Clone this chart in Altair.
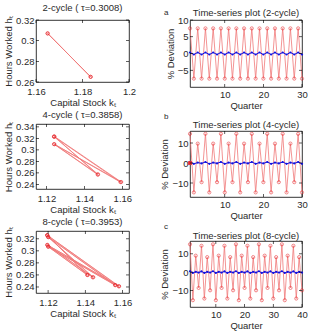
import altair as alt
import pandas as pd

FONT = "Liberation Sans"
RED_LINE = "#f07878"
RED_PT = "#e8262b"
BLUE = "#1010e0"
INK = "#2a2a2a"

# ---- phase-plane trajectories: capital stock k_t vs hours worked h_t ----
k2 = [1.165, 1.1835, 1.165, 1.1835]
h2 = [0.307, 0.265, 0.307, 0.265]

k4 = [1.124, 1.159, 1.124, 1.147, 1.1242, 1.1594, 1.1242, 1.1472, 1.124]
h4 = [0.323, 0.244, 0.310, 0.257, 0.3233, 0.2442, 0.3098, 0.2574, 0.323]

k8 = [1.1195, 1.158, 1.1195, 1.144, 1.1200, 1.156, 1.1200, 1.141,
      1.1197, 1.1582, 1.1197, 1.1443, 1.1202, 1.1562, 1.1202, 1.1413, 1.1195]
h8 = [0.326, 0.241, 0.310, 0.256, 0.323, 0.243, 0.307, 0.260,
      0.3257, 0.2413, 0.3097, 0.2562, 0.3227, 0.2432, 0.3068, 0.2598, 0.326]

# ---- time series: % deviation per quarter ----
q30 = list(range(1, 31))
q40 = list(range(1, 41))

red2 = [7.5, -7.5, 7.5, -7.5, 7.5, -7.5, 7.5, -7.5, 7.5, -7.5,
        7.5, -7.5, 7.5, -7.5, 7.5, -7.5, 7.5, -7.5, 7.5, -7.5,
        7.5, -7.5, 7.5, -7.5, 7.5, -7.5, 7.5, -7.5, 7.5, -7.5]
blue2 = [0.3, -0.3, 0.3, -0.3, 0.3, -0.3, 0.3, -0.3, 0.3, -0.3,
         0.3, -0.3, 0.3, -0.3, 0.3, -0.3, 0.3, -0.3, 0.3, -0.3,
         0.3, -0.3, 0.3, -0.3, 0.3, -0.3, 0.3, -0.3, 0.3, -0.3]

red4 = [14.6, -14.7, 9.7, -9.6, 14.6, -14.7, 9.7, -9.6, 14.6, -14.7,
        9.7, -9.6, 14.6, -14.7, 9.7, -9.6, 14.6, -14.7, 9.7, -9.6,
        14.6, -14.7, 9.7, -9.6, 14.6, -14.7, 9.7, -9.6, 14.6, -14.7]
blue4 = [0.5, -0.4, 0.2, -0.2, 0.5, -0.4, 0.2, -0.2, 0.5, -0.4,
         0.2, -0.2, 0.5, -0.4, 0.2, -0.2, 0.5, -0.4, 0.2, -0.2,
         0.5, -0.4, 0.2, -0.2, 0.5, -0.4, 0.2, -0.2, 0.5, -0.4]
start4_q = [1]
start4_v = [0.0]

red8 = [15.2, -15.3, 9.0, -8.6, 14.4, -14.4, 8.2, -9.9,
        15.2, -15.3, 9.0, -8.6, 14.4, -14.4, 8.2, -9.9,
        15.2, -15.3, 9.0, -8.6, 14.4, -14.4, 8.2, -9.9,
        15.2, -15.3, 9.0, -8.6, 14.4, -14.4, 8.2, -9.9,
        15.2, -15.3, 9.0, -8.6, 14.4, -14.4, 8.2, -9.9]
blue8 = [0.5, -0.4, 0.2, -0.2, 0.4, -0.4, 0.2, -0.2,
         0.5, -0.4, 0.2, -0.2, 0.4, -0.4, 0.2, -0.2,
         0.5, -0.4, 0.2, -0.2, 0.4, -0.4, 0.2, -0.2,
         0.5, -0.4, 0.2, -0.2, 0.4, -0.4, 0.2, -0.2,
         0.5, -0.4, 0.2, -0.2, 0.4, -0.4, 0.2, -0.2]


def label_layer(text, x, y, size=9.5, align="center"):
    """A free-standing caption drawn in the panel's own pixel frame."""
    return alt.Chart(pd.DataFrame({"t": [text]})).mark_text(
        font=FONT, fontSize=size, align=align, baseline="middle", color=INK
    ).encode(text="t:N", x=alt.value(x), y=alt.value(y))


def inner_ticks(xvals, yvals, xfield, yfield, xsc, ysc, xax, yax, w, ht):
    """Short tick marks pointing into the plot box on all four sides."""
    tx = pd.DataFrame({xfield: xvals})
    ty = pd.DataFrame({yfield: yvals})
    style = dict(color="black", thickness=0.7, size=3, opacity=0.9)
    out = []
    for yv in (ht - 1.5, 1.5):
        out.append(alt.Chart(tx).mark_tick(orient="vertical", **style).encode(
            x=alt.X(f"{xfield}:Q", scale=xsc, axis=xax), y=alt.value(yv)))
    for xv in (1.5, w - 1.5):
        out.append(alt.Chart(ty).mark_tick(orient="horizontal", **style).encode(
            y=alt.Y(f"{yfield}:Q", scale=ysc, axis=yax), x=alt.value(xv)))
    return out


def phase_panel(k, h, name, xdom, ydom, xticks, yticks, w, ht, ty):
    df = pd.DataFrame({"k": k, "h": h, "step": list(range(len(k)))})
    xsc = alt.Scale(domain=xdom, nice=False, zero=False)
    ysc = alt.Scale(domain=ydom, nice=False, zero=False)
    xax = alt.Axis(values=xticks, title="Capital Stock kₜ", format="~g",
                   labelPadding=4)
    yax = alt.Axis(values=yticks, title="Hours Worked hₜ", format="~g")
    x = alt.X("k:Q", scale=xsc, axis=xax)
    y = alt.Y("h:Q", scale=ysc, axis=yax)
    line = alt.Chart(df).mark_line(color=RED_LINE, strokeWidth=0.8, clip=True).encode(
        x=x, y=y, order="step:Q")
    pts = alt.Chart(df).mark_point(color=RED_PT, shape="circle", size=10,
                                   strokeWidth=0.9, filled=False).encode(x=x, y=y)
    layers = [line, pts] + inner_ticks(xticks, yticks, "k", "h", xsc, ysc,
                                       xax, yax, w, ht)
    layers.append(label_layer(name, w / 2, ty))
    return alt.layer(*layers).properties(width=w, height=ht)


def series_panel(q, red, blue, name, letter, xdom, ydom, xticks, yticks, w, ht,
                 ty, tag_y, start_q=None, start_v=None):
    df = pd.DataFrame({"q": q, "red": red, "blue": blue})
    xsc = alt.Scale(domain=xdom, nice=False, zero=False)
    ysc = alt.Scale(domain=ydom, nice=False, zero=False)
    xax = alt.Axis(values=xticks, title="Quarter")
    yax = alt.Axis(values=yticks, title="% Deviation")
    x = alt.X("q:Q", scale=xsc, axis=xax)
    r_line = alt.Chart(df).mark_line(color=RED_LINE, strokeWidth=0.8).encode(
        x=x, y=alt.Y("red:Q", scale=ysc, axis=yax))
    r_pts = alt.Chart(df).mark_point(color=RED_PT, shape="circle", size=10,
                                     strokeWidth=0.8).encode(
        x=x, y=alt.Y("red:Q", scale=ysc, axis=yax))
    b_line = alt.Chart(df).mark_line(color=BLUE, strokeWidth=1.0).encode(
        x=x, y=alt.Y("blue:Q", scale=ysc, axis=yax))
    b_pts = alt.Chart(df).mark_point(color=BLUE, shape="circle", size=5,
                                     filled=True, opacity=1).encode(
        x=x, y=alt.Y("blue:Q", scale=ysc, axis=yax))
    layers = [r_line, r_pts, b_line, b_pts]
    if start_q is not None:
        sdf = pd.DataFrame({"q": start_q, "v": start_v})
        layers.append(alt.Chart(sdf).mark_point(color=RED_PT, shape="square",
                                                size=14, filled=True, opacity=1).encode(
            x=x, y=alt.Y("v:Q", scale=ysc, axis=yax)))
    layers += inner_ticks(xticks, yticks, "q", "red", xsc, ysc, xax, yax, w, ht)
    layers.append(label_layer(name, w / 2, ty))
    layers.append(label_layer(letter, -26, tag_y, size=8, align="left"))
    return alt.layer(*layers).properties(width=w, height=ht)


left = alt.vconcat(
    phase_panel(k2, h2, "2-cycle ( τ=0.3008)", [1.16, 1.2], [0.26, 0.32],
                [1.16, 1.18, 1.2], [0.26, 0.28, 0.3, 0.32], 93, 62, -12),
    phase_panel(k4, h4, "4-cycle ( τ=0.3858)", [1.1145, 1.1635], [0.232, 0.345],
                [1.12, 1.14, 1.16], [0.24, 0.26, 0.28, 0.3, 0.32, 0.34], 93, 65, -9),
    phase_panel(k8, h8, "8-cycle ( τ=0.3953)", [1.1135, 1.1635], [0.23, 0.333],
                [1.12, 1.14, 1.16], [0.24, 0.26, 0.28, 0.3, 0.32], 93, 62, -9),
    spacing=1,
)

right = alt.vconcat(
    series_panel(q30, red2, blue2, "Time-series plot (2-cycle)", "a", [1, 30],
                 [-10, 10], [10, 20, 30], [-5, 0, 5, 10], 112, 67, -7, -7),
    series_panel(q30, red4, blue4, "Time-series plot (4-cycle)", "b", [1, 30],
                 [-17, 16], [10, 20, 30], [-10, 0, 10], 112, 66, -6, -14,
                 start4_q, start4_v),
    series_panel(q40, red8, blue8, "Time-series plot (8-cycle)", "c", [1, 40],
                 [-19, 17], [10, 20, 30, 40], [-10, 0, 10], 112, 66, -5, -14),
    spacing=1,
)

chart = alt.hconcat(left, right, spacing=22).properties(
    padding={"left": 3, "top": 2, "right": 2, "bottom": 1},
    background="white",
).configure_view(
    stroke="black", strokeWidth=0.8
).configure_axis(
    labelFont=FONT, titleFont=FONT, labelFontSize=9.5, titleFontSize=9.5,
    titleFontWeight=400, labelColor=INK, titleColor=INK,
    domain=False, ticks=False, grid=False, labelPadding=2, titlePadding=2,
    labelFlush=False, labelOverlap=False,
)

chart.save("out.html", embed_options={"renderer": "svg", "actions": False})
